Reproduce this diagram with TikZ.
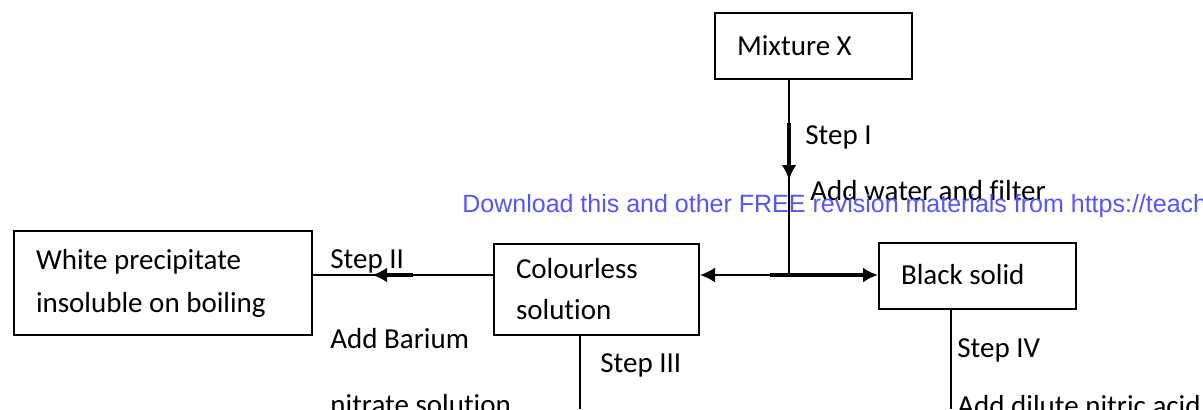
\documentclass[tikz,border=0pt]{standalone}
\usepackage{fontspec}
\setmainfont{Carlito}[Ligatures=NoCommon]
\newfontfamily\wmfont{Liberation Sans}
\usetikzlibrary{arrows.meta}
\definecolor{wmblue}{RGB}{85,85,255}
\tikzset{
  box/.style={draw, line width=1pt, anchor=north west, align=flush left, inner xsep=11pt, inner ysep=0pt},
  lbl/.style={anchor=base west, inner sep=0pt, font=\fontsize{14.5}{21}\selectfont},
  ln/.style={line width=1pt},
  thk/.style={line width=1.9pt},
}
\begin{document}
\begin{tikzpicture}[>={Latex[length=7.5pt,width=7.5pt]}, x=0.5pt, y=-0.5pt]
\useasboundingbox (0,0) rectangle (1203,409);
% Boxes
\node[box, text width=76.5pt, minimum height=33pt, font=\fontsize{14.5}{21}\selectfont] (mix) at (714,12) {Mixture X};
\node[box, text width=127pt, minimum height=52pt, font=\fontsize{14.5}{21.5}\selectfont] (wp) at (13,230) {White precipitate\\insoluble on boiling};
\node[box, text width=80.5pt, minimum height=45.5pt, font=\fontsize{14.5}{20.5}\selectfont] (col) at (493,243) {Colourless\\solution};
\node[box, text width=76.5pt, minimum height=33pt, text depth=2pt, font=\fontsize{14.5}{21}\selectfont] (blk) at (878,242) {Black solid};
% Step I
\coordinate (jn) at (789,275);
\coordinate (s1a) at (789,123);
\coordinate (s1b) at (789,180);
\draw[ln] (jn |- mix.south) -- (jn);
\draw[thk,->] (s1a) -- (s1b);
\node[lbl] (t1) at (805,144) {Step I};
\node[lbl] (t1b) at (810,200) {Add water and filter};
\coordinate (hsplit) at (770,275);
\draw[ln,->] (hsplit) -- (col.east |- jn);
\draw[thk,->] (hsplit) -- (blk.west |- jn);
% Step II
\coordinate (s2a) at (413,275);
\coordinate (s2b) at (372,275);
\draw[ln] (col.west |- jn) -- (wp.east |- jn);
\draw[thk,->] (s2a) -- (s2b);
\node[lbl] (t2) at (330,268) {Step II};
\node[lbl] (t2b) at (330,348) {Add Barium};
\node[lbl] (t2c) at (330,414) {nitrate solution};
% Step III
\coordinate (s3) at (580,409);
\draw[ln] (s3 |- col.south) -- (s3);
\node[lbl] (t3) at (600,372) {Step III};
% Step IV
\coordinate (s4) at (951,409);
\draw[ln] (s4 |- blk.south) -- (s4);
\node[lbl] (t4) at (957,357) {Step IV};
\node[lbl] (t4b) at (957,415) {Add dilute nitric acid};
% Watermark
\node[anchor=base west, inner sep=0pt, text=wmblue, font=\wmfont\fontsize{12.5}{15}\selectfont] (wm) at (462,212) {Download this and other FREE revision materials from https://teachitscience.com};
\end{tikzpicture}
\end{document}
